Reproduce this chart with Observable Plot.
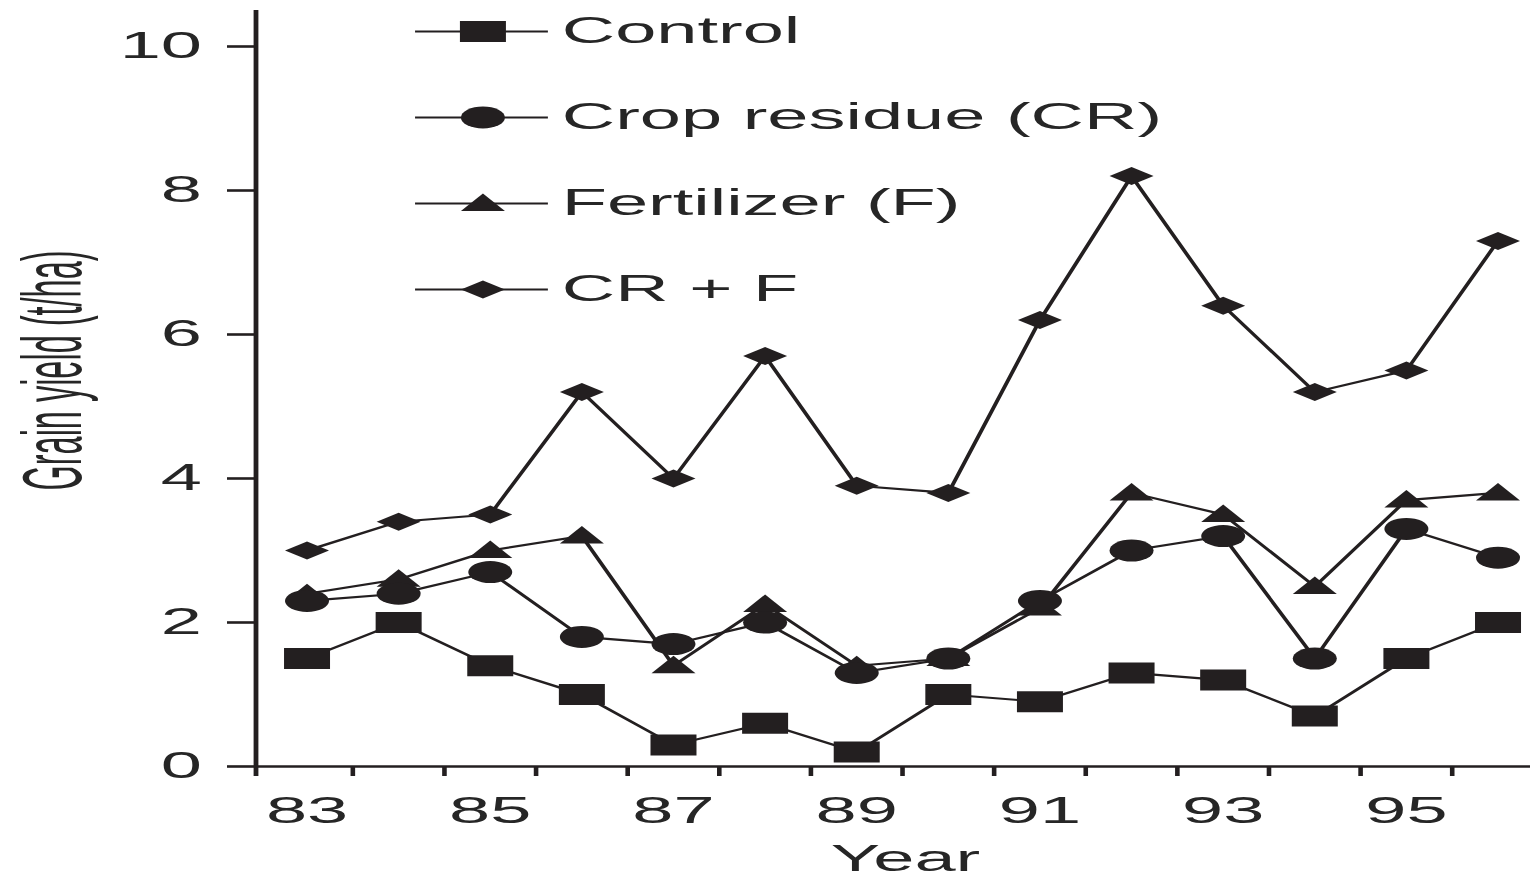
<!DOCTYPE html>
<html>
<head>
<meta charset="utf-8">
<script src="https://cdn.jsdelivr.net/npm/d3@7"></script>
<script src="https://cdn.jsdelivr.net/npm/@observablehq/plot@0.6"></script>
<style>
  html, body { margin: 0; padding: 0; background: #fff; overflow: hidden; }
  #chart svg { display: block; }
</style>
</head>
<body>
<div id="chart"></div>
<script>
// ---- Data (grain yield, t/ha) ----
const years = [83, 84, 85, 86, 87, 88, 89, 90, 91, 92, 93, 94, 95, 96];
const control      = [1.5, 2.0, 1.4, 1.0, 0.3, 0.6, 0.2, 1.0, 0.9, 1.3, 1.2, 0.7, 1.5, 2.0];
const cropResidue  = [2.3, 2.4, 2.7, 1.8, 1.7, 2.0, 1.3, 1.5, 2.3, 3.0, 3.2, 1.5, 3.3, 2.9];
const fertilizer   = [2.4, 2.6, 3.0, 3.2, 1.4, 2.25, 1.4, 1.5, 2.2, 3.8, 3.5, 2.5, 3.7, 3.8];
const crPlusF      = [3.0, 3.4, 3.5, 5.2, 4.0, 5.7, 3.9, 3.8, 6.2, 8.2, 6.4, 5.2, 5.5, 7.3];
const seriesNames  = ["Control", "Crop residue (CR)", "Fertilizer (F)", "CR + F"];
const yTicks       = [0, 2, 4, 6, 8, 10];
const xTickLabels  = [83, 85, 87, 89, 91, 93, 95];
const xTitle = "Year";
const yTitle = "Grain yield (t/ha)";

// ---- Layout (drawn at half width, then stretched 2x horizontally like the original) ----
const W = 765, H = 877;
const xDomain = [82.443, 96.36];
const yDomain = [-0.139, 10.5];
const ink = "#231f20";
const textInk = "#262626";
const fs = 37;

const seriesValues = [control, cropResidue, fertilizer, crPlusF];
const data = seriesNames.flatMap((s, i) => years.map((yr, j) => ({series: s, year: yr, value: seriesValues[i][j]})));
const bySeries = s => data.filter(d => d.series === s);
const boundaries = years.slice(1).map(y => y - 0.5);

// custom marker shapes
const sqSym = {draw(c) { c.rect(-11.5, -10.5, 23, 21); }};
const ciSym = {draw(c) { c.moveTo(11, 0); c.arc(0, 0, 11, 0, 2 * Math.PI); c.closePath(); }};
const trSym = {draw(c) { c.moveTo(0, -10); c.lineTo(11, 7.5); c.lineTo(-11, 7.5); c.closePath(); }};
const diSym = {draw(c) { c.moveTo(0, -9); c.lineTo(11, 0); c.lineTo(0, 9); c.lineTo(-11, 0); c.closePath(); }};
const symbols = [sqSym, ciSym, trSym, diSym];

// legend layout (in data space)
const legendTop = 10.21, legendStep = 1.195;
const legend = seriesNames.map((s, i) => ({series: s, ly: legendTop - i * legendStep, sym: symbols[i]}));
const lgX1 = 84.19, lgX2 = 85.64, lgXm = 84.92, lgXt = 85.78;

const marks = [
  // axis lines
  Plot.ruleX([xDomain[0]], {y1: yDomain[0], y2: yDomain[1], stroke: ink, strokeWidth: 2.4}),
  Plot.ruleY([0], {x1: xDomain[0], x2: xDomain[1], stroke: ink, strokeWidth: 2.6}),
  // x band ticks
  Plot.ruleX(boundaries, {y1: 0, y2: yDomain[0], stroke: ink, strokeWidth: 2.3}),
  // y axis ticks + labels
  Plot.axisY(yTicks, {anchor: "left", tickSize: 14, tickPadding: 13, strokeWidth: 2.6, stroke: ink, fill: textInk, fontSize: fs, tickFormat: d => String(d), label: null}),
  // x labels
  Plot.axisX(xTickLabels, {anchor: "bottom", tickSize: 0, tickPadding: 20, fill: textInk, fontSize: fs, tickFormat: d => String(d), label: null}),
  // titles
  Plot.text([xTitle], {frameAnchor: "bottom", lineAnchor: "bottom", dy: 94, dx: 6, fontSize: fs, fill: textInk}),
  Plot.text([yTitle], {frameAnchor: "left", rotate: -90, dx: -101, dy: -23, lineAnchor: "middle", textAnchor: "middle", fontSize: 42, fill: textInk, className: "ytitle"}),
  // series lines
  Plot.line(data, {x: "year", y: "value", z: "series", stroke: ink, strokeWidth: 2.1, curve: "linear"}),
];
// markers, in drawing order
[3, 2, 1, 0].forEach(i => {
  marks.push(Plot.dot(bySeries(seriesNames[i]), {x: "year", y: "value", r: 10, symbol: symbols[i], fill: ink, stroke: "none"}));
});
// legend
marks.push(Plot.ruleY(legend, {y: "ly", x1: lgX1, x2: lgX2, stroke: ink, strokeWidth: 2}));
legend.forEach(d => {
  marks.push(Plot.dot([d], {x: lgXm, y: "ly", r: 10, symbol: d.sym, fill: ink, stroke: "none"}));
});
marks.push(Plot.text(legend, {x: lgXt, y: "ly", text: "series", textAnchor: "start", lineAnchor: "middle", fontSize: fs, fill: textInk}));

const svg = Plot.plot({
  width: W,
  height: H,
  marginLeft: 127.5,
  marginRight: 0,
  marginTop: 10,
  marginBottom: 101,
  x: {domain: xDomain, axis: null},
  y: {domain: yDomain, axis: null},
  style: {fontFamily: "'Liberation Sans', Arial, Helvetica, sans-serif", background: "#fff", overflow: "visible"},
  marks
});

// compress the condensed y title
d3.select(svg).selectAll(".ytitle text").attr("textLength", 240).attr("lengthAdjust", "spacingAndGlyphs");

// stretch horizontally 2x, as in the original figure
svg.setAttribute("width", 1530);
svg.setAttribute("height", 877);
svg.setAttribute("preserveAspectRatio", "none");
svg.style.width = "1530px";
svg.style.height = "877px";
svg.style.maxWidth = "none";
document.getElementById("chart").appendChild(svg);
</script>
</body>
</html>
